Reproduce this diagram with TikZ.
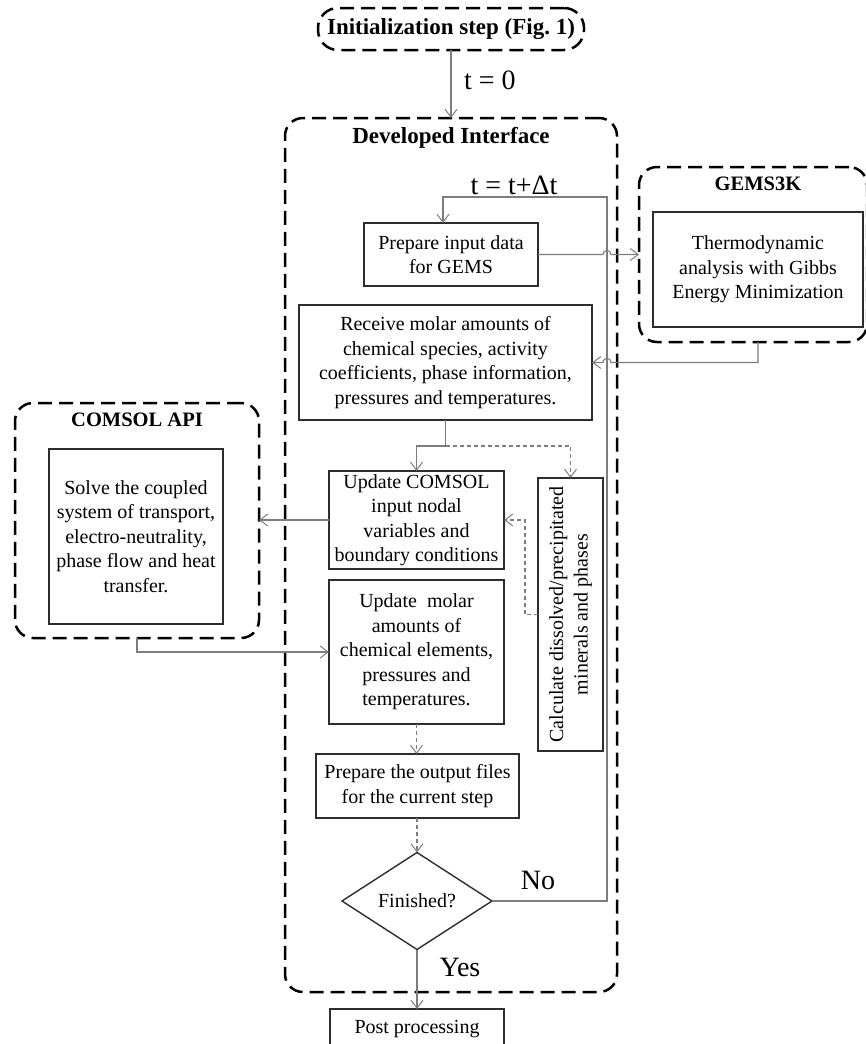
\documentclass[tikz,border=0pt]{standalone}
\usepackage{fontspec}
\setmainfont{Liberation Serif}
\usetikzlibrary{arrows.meta,shapes.geometric,calc}
\definecolor{boxc}{RGB}{45,45,45}
\definecolor{connc}{RGB}{125,125,125}
\begin{document}
\begin{tikzpicture}[x=1pt,y=-1pt,
  every node/.style={inner sep=0pt, outer sep=0pt, text=black},
  body/.style={font=\fontsize{20}{24.5}\selectfont, align=center},
  box/.style={body, draw=boxc, line width=1.4pt, rectangle},
  container/.style={draw=black, line width=2.5pt, dash pattern=on 14pt off 7pt, rounded corners=18pt, rectangle},
  ttl/.style={font=\bfseries\fontsize{20.5}{24}\selectfont},
  bigttl/.style={font=\bfseries\fontsize{23}{27}\selectfont},
  conn/.style={draw=connc, line width=1.1pt},
  arrowed/.style={-{Straight Barb[length=8pt,width=12pt,line width=1pt]}},
  dconn/.style={conn, dash pattern=on 4pt off 3pt},
  big/.style={font=\fontsize{28}{31}\selectfont}
]
\useasboundingbox (0,0) rectangle (865,1044);

% containers
\node[container, bigttl, minimum width=266pt, minimum height=42pt, rounded corners=20pt] (init) at (451,29) {Initialization step (Fig.~1)};
\node[container, minimum width=332pt, minimum height=874pt] (di) at (451,555) {};
\node[bigttl] (dititle) at (451,138) {Developed Interface};
\node[container, minimum width=228pt, minimum height=175pt] (gems) at (753,254.5) {};
\node[ttl] (gemstitle) at (758,184) {GEMS3K};
\node[container, minimum width=244pt, minimum height=235pt] (comsol) at (137,520.5) {};
\node[ttl] (comsoltitle) at (137,420) {COMSOL API};

% boxes
\node[box, minimum width=174pt, minimum height=63pt] (prep) at (451,254.5) {Prepare input data\\for GEMS};
\node[box, minimum width=210pt, minimum height=115pt] (gemsin) at (758,269.5) {Thermodynamic\\analysis with Gibbs\\Energy Minimization};
\node[box, minimum width=293pt, minimum height=115pt] (receive) at (445.5,362.5) {Receive molar amounts of\\chemical species, activity\\coefficients, phase information,\\pressures and temperatures.};
\node[box, minimum width=174pt, minimum height=175pt] (solve) at (136,536.5) {Solve the coupled\\system of transport,\\electro-neutrality,\\phase flow and heat\\transfer.};
\node[box, minimum width=175pt, minimum height=98pt] (upcom) at (416.5,520) {Update COMSOL\\input nodal\\variables and\\boundary conditions};
\node[box, rotate=90, minimum width=273pt, minimum height=65pt] (calc) at (570.5,614.5) {Calculate dissolved/precipitated\\minerals and phases};
\node[box, minimum width=175pt, minimum height=144pt] (upmol) at (416.5,652) {Update\ \ molar\\amounts of\\chemical elements,\\pressures and\\temperatures.};
\node[box, minimum width=203pt, minimum height=64pt] (prepout) at (417.5,786) {Prepare the output files\\for the current step};
\node[box, diamond, aspect=1.5, minimum width=150pt, minimum height=97pt] (fin) at (417,901) {Finished?};
\node[box, minimum width=174pt, minimum height=40pt] (post) at (417,1029) {Post processing};

% labels
\node[big, anchor=west] (t0) at (464,80) {t = 0};
\node[big] (tdt) at (514,185) {t = t+Δt};
\node[big] (nolab) at (538,880) {No};
\node[big] (yeslab) at (460,967) {Yes};

% connectors
\coordinate (loop) at (607,197);
\draw[conn, arrowed] (init.south) -- (di.north);
\draw[conn, arrowed] (fin.east) -- (loop |- fin.east) -- (loop) -| ([xshift=-8pt]prep.north);

\coordinate (h1a) at ($(loop |- prep.east)+(-4,0)$);
\coordinate (h1b) at ($(loop |- prep.east)+(4,0)$);
\draw[conn, arrowed] (prep.east) -- (h1a) .. controls ($(h1a)+(0,-5.5)$) and ($(h1b)+(0,-5.5)$) .. (h1b) -- (gems.west |- prep.east);

\coordinate (gd) at (gemsin.south |- gems.south);
\coordinate (h2a) at ($(loop |- receive.east)+(-4,0)$);
\coordinate (h2b) at ($(loop |- receive.east)+(4,0)$);
\draw[conn, arrowed] (gd) -- (gd |- receive.east) -- (h2b) .. controls ($(h2b)+(0,-5.5)$) and ($(h2a)+(0,-5.5)$) .. (h2a) -- (receive.east);

\coordinate (br) at ($(receive.south)+(0,26)$);
\draw[conn] (receive.south) -- (br);
\draw[conn, arrowed] (br) -| (upcom.north);
\draw[dconn, arrowed] (br) -| (calc.east);
\draw[conn, arrowed] (upcom.west) -- (comsol.east |- upcom.west);
\draw[dconn, arrowed] (calc.north) -- ++(-13,0) |- (upcom.east);
\draw[conn, arrowed] (comsol.south) -- (comsol.south |- upmol.west) -- (upmol.west);
\draw[dconn, arrowed] (upmol.south) -- (upmol.south |- prepout.north);
\draw[dconn, arrowed] (fin.north |- prepout.south) -- (fin.north);
\draw[conn, arrowed] (fin.south) -- (post.north);
\end{tikzpicture}
\end{document}
